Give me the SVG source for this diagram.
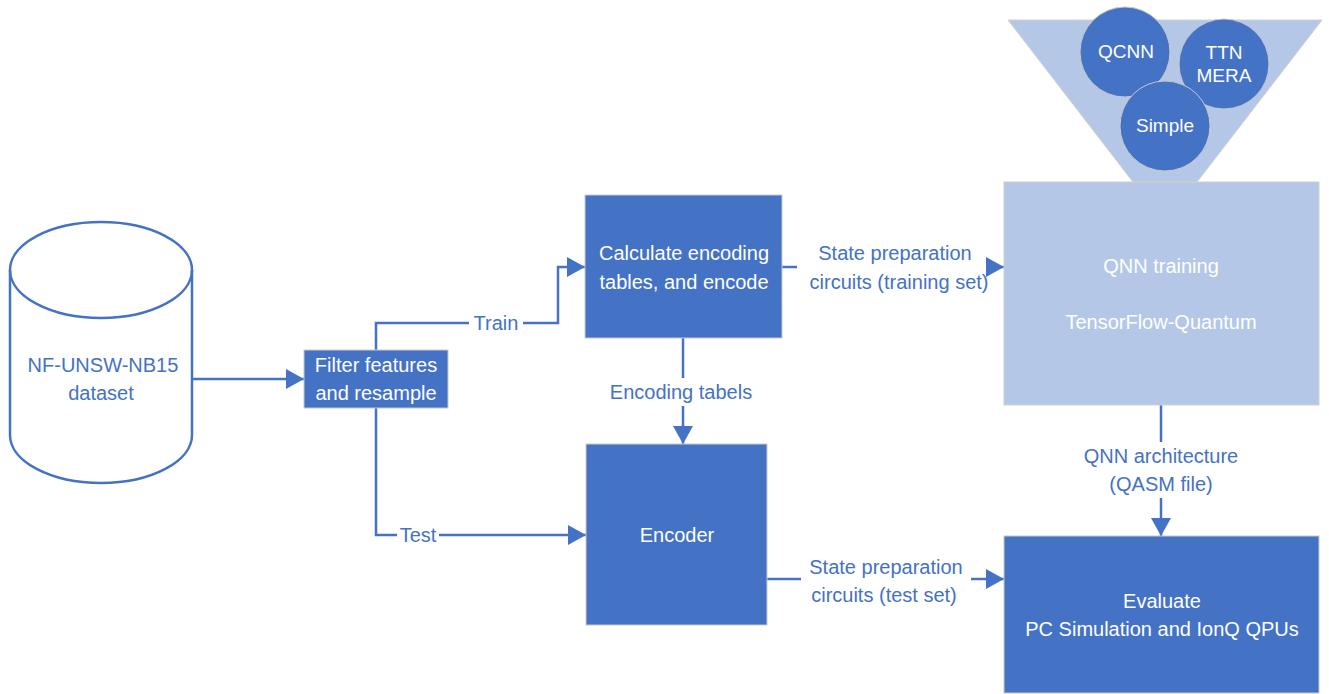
<svg xmlns="http://www.w3.org/2000/svg" width="1329" height="694" viewBox="0 0 1329 694">
<defs>
<style>
.dark{fill:#4472C4;stroke:#C9C9C9;stroke-width:1}
.light{fill:#B4C7E7;stroke:#D0D0D0;stroke-width:1}
.wt{fill:#FFFFFF;font-family:"Liberation Sans",Arial,sans-serif;font-size:20px;text-anchor:middle;dominant-baseline:central}
.bt{fill:#4472C4;font-family:"Liberation Sans",Arial,sans-serif;font-size:20px;text-anchor:middle;dominant-baseline:central}
.cw{fill:#FFFFFF;font-family:"Liberation Sans",Arial,sans-serif;font-size:19px;text-anchor:middle;dominant-baseline:central}
.ln{fill:none;stroke:#4472C4;stroke-width:2.5}
.bg{fill:#FFFFFF}
</style>
<marker id="arr" markerUnits="userSpaceOnUse" markerWidth="18" markerHeight="20" refX="18" refY="10" orient="auto" viewBox="0 0 18 20">
<path d="M0,0 L18,10 L0,20 z" fill="#4472C4"/>
</marker>
</defs>
<rect width="1329" height="694" fill="#FFFFFF"/>

<g id="connectors">
<path class="ln" d="M192,379 L304,379" marker-end="url(#arr)"/>
<path class="ln" d="M376,350 L376,323 L558,323 L558,267 L585,267" marker-end="url(#arr)"/>
<path class="ln" d="M376,408 L376,535 L586,535" marker-end="url(#arr)"/>
<path class="ln" d="M683,338 L683,444" marker-end="url(#arr)"/>
<path class="ln" d="M782,267 L1004,267" marker-end="url(#arr)"/>
<path class="ln" d="M767,579 L1004,579" marker-end="url(#arr)"/>
<path class="ln" d="M1161,405 L1161,536" marker-end="url(#arr)"/>
<rect class="bg" x="469" y="311" width="54" height="24"/>
<text class="bt" x="496" y="323">Train</text>
<rect class="bg" x="397" y="523" width="42" height="24"/>
<text class="bt" x="418" y="535">Test</text>
<rect class="bg" x="604" y="378" width="152" height="28"/>
<text class="bt" x="681" y="392">Encoding tabels</text>
<rect class="bg" x="797" y="240" width="189" height="56"/>
<text class="bt" x="895" y="253">State preparation</text>
<text class="bt" x="899" y="282">circuits (training set)</text>
<rect class="bg" x="801" y="553" width="170" height="56"/>
<text class="bt" x="886" y="567">State preparation</text>
<text class="bt" x="884" y="595">circuits (test set)</text>
<rect class="bg" x="1075" y="442" width="172" height="56"/>
<text class="bt" x="1161" y="456">QNN architecture</text>
<text class="bt" x="1161" y="484">(QASM file)</text>
</g>

<g id="dataset">
<path d="M10,270 L10,435 A91,48 0 0 0 192,435 L192,270 A91,48 0 0 0 10,270 Z" fill="#FFFFFF" stroke="#4472C4" stroke-width="2.5"/>
<path d="M10,270 A91,48 0 0 0 192,270" fill="none" stroke="#4472C4" stroke-width="2.5"/>
<text class="bt" x="103" y="365">NF-UNSW-NB15</text>
<text class="bt" x="101" y="393">dataset</text>
</g>

<g id="filter">
<rect class="dark" x="304" y="350" width="144" height="58"/>
<text class="wt" x="376" y="365">Filter features</text>
<text class="wt" x="376" y="393">and resample</text>
</g>

<g id="calculate">
<rect class="dark" x="585" y="195" width="197" height="143"/>
<text class="wt" x="684" y="253">Calculate encoding</text>
<text class="wt" x="684" y="282">tables, and encode</text>
</g>

<g id="encoder">
<rect class="dark" x="586" y="444" width="181" height="181"/>
<text class="wt" x="677" y="535">Encoder</text>
</g>

<g id="funnel">
<polygon points="1008,20 1322,20 1197,182 1133,182" fill="#B4C7E7" stroke="#D0D0D0" stroke-width="1"/>
</g>

<g id="qcnn">
<circle class="dark" cx="1125" cy="52" r="45"/>
<text class="cw" x="1126" y="51">QCNN</text>
</g>

<g id="ttn-mera">
<circle class="dark" cx="1224" cy="64" r="45"/>
<text class="cw" x="1224" y="52">TTN</text>
<text class="cw" x="1224" y="75">MERA</text>
</g>

<g id="simple">
<circle class="dark" cx="1165" cy="126" r="45"/>
<text class="cw" x="1165" y="125">Simple</text>
</g>

<g id="qnn-training">
<rect class="light" x="1004" y="182" width="315" height="223"/>
<text class="wt" x="1161" y="266">QNN training</text>
<text class="wt" x="1161" y="322">TensorFlow-Quantum</text>
</g>

<g id="evaluate">
<rect class="dark" x="1004" y="536" width="315" height="157"/>
<text class="wt" x="1162" y="601">Evaluate</text>
<text class="wt" x="1162" y="629">PC Simulation and IonQ QPUs</text>
</g>
</svg>
